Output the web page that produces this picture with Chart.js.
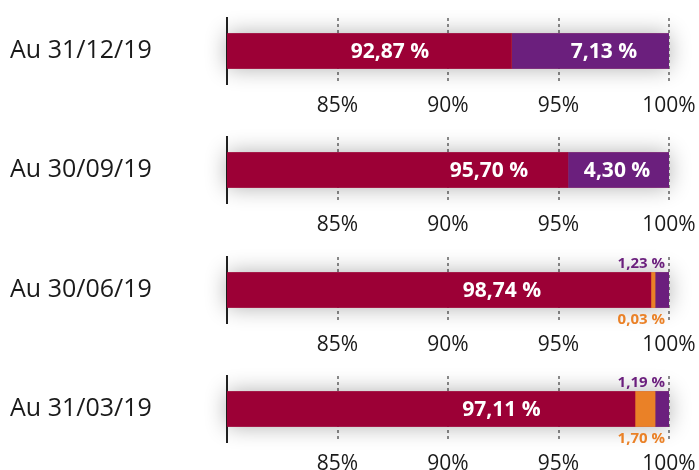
<!DOCTYPE html>
<html lang="fr">
<head>
<meta charset="utf-8">
<title>Répartition par trimestre</title>
<script src="https://cdn.jsdelivr.net/npm/chart.js@4.4.1/dist/chart.umd.min.js"></script>
<style>
  html, body { margin: 0; padding: 0; background: #fff; }
  #wrap { position: relative; width: 699px; height: 470px; overflow: hidden; }
  .panel { position: absolute; left: 0; }
</style>
</head>
<body>
<div id="wrap"></div>
<script>
// une barre par date d'arrêté, chaque panneau a son propre axe 80-100 %
const periods = ["Au 31/12/19", "Au 30/09/19", "Au 30/06/19", "Au 31/03/19"];

// longueurs des segments telles que dessinées sur l'image
const crimsonVals = [92.87, 95.42, 99.18, 98.46];
const orangeVals = [0, 0, 0.19, 0.91];
const purpleVals = [7.13, 4.58, 0.63, 0.63];

// textes affichés
const crimsonText = ["92,87 %", "95,70 %", "98,74 %", "97,11 %"];
const purpleText = ["7,13 %", "4,30 %", "1,23 %", "1,19 %"];
const orangeText = ["", "", "0,03 %", "1,70 %"];
// où le texte intérieur est centré (en % de l'axe); null = texte hors barre
const crimsonLabelAt = [87.37, 91.85, 92.44, 92.42];
const purpleLabelAt = [97.06, 97.65, null, null];

const axisMin = 80;
const axisMax = 100;
const axisStep = 5;

const COLORS = { crimson: "#9c0036", orange: "#ea8127", purple: "#6b1f7d", grid: "#8c8c8c", text: "#1a1a1a" };
const FONT = "'Open Sans', 'DejaVu Sans', sans-serif";

const shadowPlugin = {
  id: "barShadow",
  beforeDatasetsDraw(chart) {
    const bar = chart.getDatasetMeta(0).data[0];
    const xs = chart.scales.x;
    if (!bar) return;
    const ctx = chart.ctx;
    const x0 = xs.getPixelForValue(axisMin);
    const x1 = xs.getPixelForValue(axisMax);
    ctx.save();
    ctx.shadowColor = "rgba(0,0,0,0.32)";
    ctx.shadowBlur = 22;
    ctx.fillStyle = COLORS.crimson;
    ctx.fillRect(x0, bar.y - bar.height / 2, x1 - x0, bar.height);
    ctx.restore();
  },
};

const labelPlugin = {
  id: "barLabels",
  afterDraw(chart) {
    const i = chart.options.plugins.barLabels.index;
    const bar = chart.getDatasetMeta(0).data[0];
    const xs = chart.scales.x;
    const ctx = chart.ctx;
    ctx.save();
    ctx.textBaseline = "middle";
    ctx.font = "bold 21px " + FONT;
    ctx.fillStyle = "#fff";
    ctx.textAlign = "center";
    ctx.fillText(crimsonText[i], xs.getPixelForValue(crimsonLabelAt[i]), bar.y + 1);
    if (purpleLabelAt[i] !== null) {
      ctx.fillText(purpleText[i], xs.getPixelForValue(purpleLabelAt[i]), bar.y + 1);
    } else {
      const right = xs.getPixelForValue(axisMax) - 4;
      ctx.font = "bold 15px " + FONT;
      ctx.textAlign = "right";
      ctx.fillStyle = COLORS.purple;
      ctx.fillText(purpleText[i], right, bar.y - bar.height / 2 - 9);
      ctx.fillStyle = COLORS.orange;
      ctx.fillText(orangeText[i], right, bar.y + bar.height / 2 + 12);
    }
    ctx.restore();
  },
};

function makePanel(i) {
  const canvas = document.createElement("canvas");
  canvas.className = "panel";
  canvas.width = 699;
  canvas.height = 120;
  canvas.style.top = Math.round(i * 119.3) + "px";
  document.getElementById("wrap").appendChild(canvas);

  return new Chart(canvas, {
    type: "bar",
    data: {
      labels: [periods[i]],
      datasets: [
        { data: [crimsonVals[i]], backgroundColor: COLORS.crimson },
        { data: [orangeVals[i]], backgroundColor: COLORS.orange },
        { data: [purpleVals[i]], backgroundColor: COLORS.purple },
      ],
    },
    options: {
      indexAxis: "y",
      responsive: false,
      animation: false,
      devicePixelRatio: 1,
      barThickness: 35,
      borderWidth: 0,
      layout: { padding: { left: 10, right: 30, top: 16, bottom: 0 } },
      plugins: { legend: { display: false }, tooltip: { enabled: false }, barLabels: { index: i } },
      scales: {
        x: {
          stacked: true,
          min: axisMin,
          max: axisMax,
          z: 1,
          afterFit: (s) => { s.height = 36; s.paddingRight = 0; },
          ticks: {
            stepSize: axisStep,
            autoSkip: false,
            maxRotation: 0,
            padding: 9,
            color: COLORS.text,
            font: { family: FONT, size: 21 },
            callback: (v) => (v === axisMin ? "" : v + "%"),
          },
          grid: {
            drawTicks: false,
            lineWidth: 2,
            color: (c) => (c.tick && c.tick.value === axisMin ? "rgba(0,0,0,0)" : COLORS.grid),
          },
          border: { display: false, dash: [3, 3] },
        },
        y: {
          stacked: true,
          z: 1,
          afterFit: (s) => { s.width = 217; },
          grid: { display: false, drawTicks: false },
          border: { display: true, color: "#222", width: 2 },
          ticks: {
            crossAlign: "far",
            color: COLORS.text,
            font: { family: FONT, size: 25 },
          },
        },
      },
    },
    plugins: [shadowPlugin, labelPlugin],
  });
}

periods.forEach((p, i) => makePanel(i));
</script>
</body>
</html>
